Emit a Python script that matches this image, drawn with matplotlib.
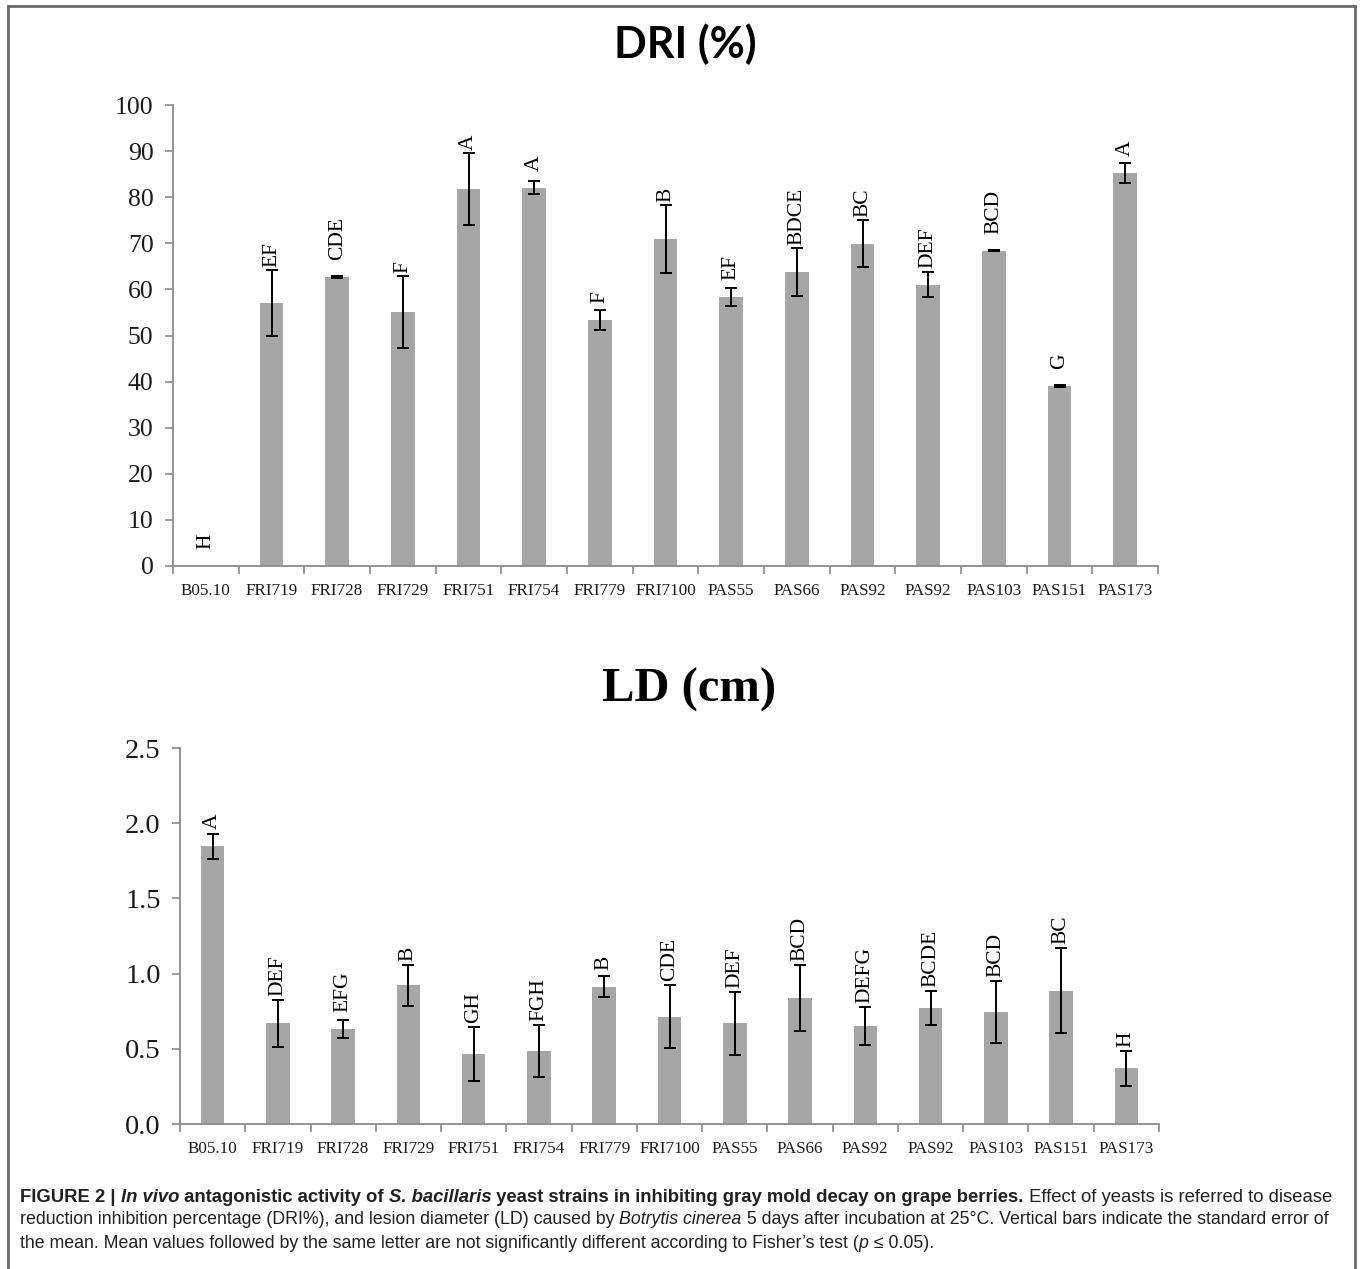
import matplotlib
matplotlib.use("Agg")
import matplotlib.pyplot as plt
from matplotlib.lines import Line2D

# ---------------- data ----------------
strains = ["B05.10", "FRI719", "FRI728", "FRI729", "FRI751", "FRI754", "FRI779",
           "FRI7100", "PAS55", "PAS66", "PAS92", "PAS92", "PAS103", "PAS151", "PAS173"]

dri_mean = [0, 57.0, 62.7, 55.1, 81.8, 82.1, 53.3, 71.0, 58.4, 63.8, 69.9, 61.0, 68.4, 39.1, 85.2]
dri_err = [0, 7.1, 0.15, 7.8, 7.8, 1.4, 2.2, 7.4, 2.0, 5.2, 5.1, 2.7, 0.15, 0.2, 2.2]
dri_letters = ["H", "EF", "CDE", "F", "A", "A", "F", "B", "EF", "BDCE", "BC", "DEF", "BCD", "G", "A"]
dri_ticks = [0, 10, 20, 30, 40, 50, 60, 70, 80, 90, 100]
dri_ticklabels = ["0", "10", "20", "30", "40", "50", "60", "70", "80", "90", "100"]

ld_mean = [1.846, 0.669, 0.634, 0.922, 0.468, 0.485, 0.913, 0.714, 0.669, 0.836, 0.652, 0.773, 0.747, 0.887, 0.370]
ld_err = [0.085, 0.158, 0.060, 0.137, 0.180, 0.175, 0.069, 0.212, 0.208, 0.219, 0.128, 0.112, 0.206, 0.280, 0.117]
ld_letters = ["A", "DEF", "EFG", "B", "GH", "FGH", "B", "CDE", "DEF", "BCD", "DEFG", "BCDE", "BCD", "BC", "H"]
ld_ticks = [0.0, 0.5, 1.0, 1.5, 2.0, 2.5]
ld_ticklabels = ["0.0", "0.5", "1.0", "1.5", "2.0", "2.5"]

# ---------------- figure ----------------
W, H = 1360, 1269
fig = plt.figure(figsize=(W / 100, H / 100), dpi=100)
fig.patch.set_facecolor("white")

SERIF = "Liberation Serif"
BAR_C = "#a6a6a6"
AX_C = "#8a8a8a"


def fig_rect(l, t, r, b):
    return [l / W, 1 - b / H, (r - l) / W, (b - t) / H]


def style_axes(ax, ticks, ticklabels, ylim, ysize):
    n = len(strains)
    ax.set_xlim(-0.5, n - 0.5)
    ax.set_ylim(*ylim)
    for s in ("top", "right"):
        ax.spines[s].set_visible(False)
    for s in ("left", "bottom"):
        ax.spines[s].set_color(AX_C)
        ax.spines[s].set_linewidth(1.3)
    ax.set_yticks(ticks)
    ax.set_yticklabels(ticklabels, fontfamily=SERIF, fontsize=ysize, color="#1a1a1a")
    ax.tick_params(axis="y", direction="out", length=6, width=1.2, color=AX_C, pad=8)
    # category labels at centres, tick marks at category boundaries
    ax.set_xticks(range(n))
    ax.set_xticklabels(strains, fontfamily=SERIF, fontsize=12.3, color="#1a1a1a")
    ax.tick_params(axis="x", which="major", length=0, pad=12)
    ax.set_xticks([i - 0.5 for i in range(n + 1)], minor=True)
    ax.tick_params(axis="x", which="minor", direction="out", length=6, width=1.2, color=AX_C)


def draw_bars(ax, means, errs):
    x = list(range(len(means)))
    ax.bar(x, means, width=0.36, color=BAR_C, zorder=2)
    xs = [i for i in x if errs[i] > 0]
    ax.errorbar(xs, [means[i] for i in xs], yerr=[errs[i] for i in xs], fmt="none",
                ecolor="black", elinewidth=1.4, capsize=4.5, capthick=1.4, zorder=3)


def draw_letters(ax, means, errs, letters, fsize, near_px, far_px):
    trans = ax.transData
    inv = trans.inverted()
    for i, (m, e, lab) in enumerate(zip(means, errs, letters)):
        y_top = trans.transform((i, m + e))[1]
        y_bar = trans.transform((i, m))[1]
        y_px = max(y_top + near_px, y_bar + far_px)
        y_data = inv.transform((0, y_px))[1]
        ax.text(i, y_data, lab, rotation=90, ha="center", va="bottom",
                fontfamily=SERIF, fontsize=fsize, color="black", zorder=4)


# ---- top chart: DRI (%) ----
ax1 = fig.add_axes(fig_rect(173, 105, 1158, 566))
style_axes(ax1, dri_ticks, dri_ticklabels, (0, 100), 18.5)
draw_bars(ax1, dri_mean, dri_err)
draw_letters(ax1, dri_mean, dri_err, dri_letters, 15.5, 3, 17)
fig.text(685 / W, 1 - 44 / H, "DRI (%)", fontfamily="Lato", fontweight="bold",
         fontsize=31, ha="center", va="center", color="black")

# ---- bottom chart: LD (cm) ----
ax2 = fig.add_axes(fig_rect(180, 748, 1159, 1124))
style_axes(ax2, ld_ticks, ld_ticklabels, (0, 2.5), 20.5)
draw_bars(ax2, ld_mean, ld_err)
draw_letters(ax2, ld_mean, ld_err, ld_letters, 15.5, 4, 17)
fig.text(689 / W, 1 - 690 / H, "LD (cm)", fontfamily=SERIF, fontweight="bold",
         fontsize=35, ha="center", va="center", color="black")

# ---- frame ----
frame_c = "#6a6a6a"
fig.add_artist(Line2D([8 / W, 8 / W], [0, 1 - 6 / H], transform=fig.transFigure, color=frame_c, lw=2))
fig.add_artist(Line2D([8 / W, 1355 / W], [1 - 6 / H, 1 - 6 / H], transform=fig.transFigure, color=frame_c, lw=2))
fig.add_artist(Line2D([1355 / W, 1355 / W], [0, 1 - 6 / H], transform=fig.transFigure, color=frame_c, lw=2))

# ---- caption with mixed styles ----
renderer = fig.canvas.get_renderer()
CAP_FONT = "Liberation Sans"
BASE_SIZE = 12.0
CAP_C = "#231f20"

caption_lines = [
    [("FIGURE 2 | ", "bold", "normal"), ("In vivo", "bold", "italic"),
     (" antagonistic activity of ", "bold", "normal"), ("S. bacillaris", "bold", "italic"),
     (" yeast strains in inhibiting gray mold decay on grape berries.", "bold", "normal"),
     (" Effect of yeasts is referred to disease", "normal", "normal")],
    [("reduction inhibition percentage (DRI%), and lesion diameter (LD) caused by ", "normal", "normal"),
     ("Botrytis cinerea", "normal", "italic"),
     (" 5 days after incubation at 25°C. Vertical bars indicate the standard error of", "normal", "normal")],
    [("the mean. Mean values followed by the same letter are not significantly different according to Fisher\u2019s test (", "normal", "normal"),
     ("p", "normal", "italic"), (" \u2264 0.05).", "normal", "normal")],
]
caption_y = [1197, 1220, 1243]
caption_right = [1338, 1334, None]
CAP_LEFT = 20.0


def text_width(s, weight, style, size):
    t = fig.text(0, 0, s.replace(" ", "\u00a0"), fontfamily=CAP_FONT, fontsize=size,
                 fontweight=weight, fontstyle=style)
    w = t.get_window_extent(renderer).width
    t.remove()
    return w


sizes = []
for segs, right in zip(caption_lines, caption_right):
    if right is None:
        sizes.append(min(sizes))
        continue
    natural = sum(text_width(s, w, st, BASE_SIZE) for s, w, st in segs)
    sizes.append(BASE_SIZE * (right - CAP_LEFT) / natural)

for segs, ypx, size in zip(caption_lines, caption_y, sizes):
    x = CAP_LEFT
    for s, weight, style in segs:
        fig.text(x / W, 1 - ypx / H, s.replace(" ", "\u00a0"), fontfamily=CAP_FONT,
                 fontsize=size, fontweight=weight, fontstyle=style,
                 ha="left", va="center", color=CAP_C)
        x += text_width(s, weight, style, size)

fig.savefig("out.png", dpi=100, facecolor="white")
